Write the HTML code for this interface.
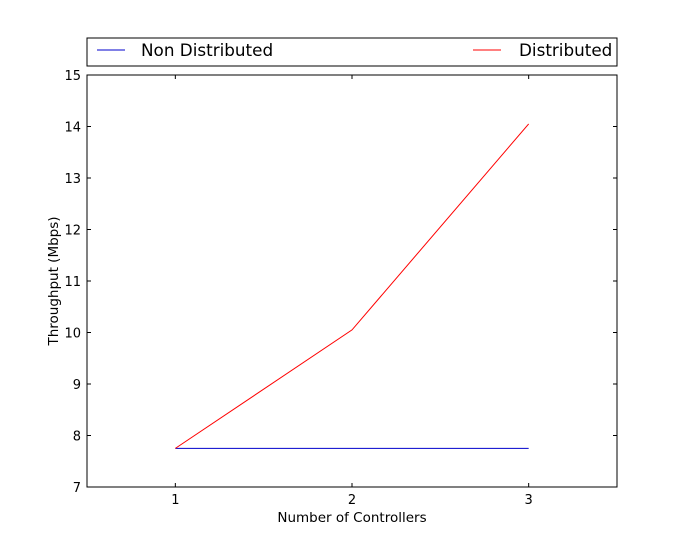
<!DOCTYPE html>
<html><head><meta charset="utf-8"><style>body{margin:0;background:#fff}svg{display:block;font-family:"DejaVu Sans","Liberation Sans",sans-serif}</style></head>
<body>
<svg id="chart" width="679" height="552">
<rect x="0" y="0" width="679" height="552" fill="#fff"/>
</svg>
<script>
const categories=[1,2,3];
const nonDistributed=[7.75,7.75,7.75];
const distributed=[7.75,10.05,14.05];
const yTicks=[7,8,9,10,11,12,13,14,15];
const xTicks=[1,2,3];
const svg=document.getElementById('chart');
const NS='http://www.w3.org/2000/svg';
const L=87,R=617,T=75,B=487;
const xs=v=>L+(v-0.5)/3*(R-L);
const ys=v=>B-(v-7)/8*(B-T);
function mk(tag,attrs,text){const e=document.createElementNS(NS,tag);for(const k in attrs)e.setAttribute(k,attrs[k]);if(text!==undefined)e.textContent=text;svg.appendChild(e);return e;}
let e;
e=mk('rect',{x:L,y:T,width:R-L,height:B-T,fill:'none',stroke:'#000','stroke-width':1});


yTicks.forEach(v=>{const y=ys(v);
 mk('line',{x1:L,x2:L+4,y1:y,y2:y,stroke:'#000'});
 mk('line',{x1:R,x2:R-4,y1:y,y2:y,stroke:'#000'});
 e=mk('text',{x:L-6,y:y+5,'text-anchor':'end','font-size':13},String(v));
 
 
});
xTicks.forEach(v=>{const x=xs(v);
 mk('line',{x1:x,x2:x,y1:B,y2:B-4,stroke:'#000'});
 mk('line',{x1:x,x2:x,y1:T,y2:T+4,stroke:'#000'});
 e=mk('text',{x:x,y:B+17,'text-anchor':'middle','font-size':13},String(v));
 
 
});
function series(vals,color,name){
 const pts=categories.map((c,i)=>xs(c)+','+ys(vals[i])).join(' ');
 e=mk('polyline',{points:pts,fill:'none',stroke:color,'stroke-width':1});
 
 
}
series(nonDistributed,'#0000cc','non-distributed-line');
series(distributed,'#ff0000','distributed-line');
e=mk('text',{x:352,y:522,'text-anchor':'middle','font-size':13.5},'Number of Controllers');


e=mk('text',{x:58,y:281,'text-anchor':'middle','font-size':13.5,transform:'rotate(-90 58 281)'},'Throughput (Mbps)');


e=mk('rect',{x:87,y:38,width:530,height:28,fill:'#fff',stroke:'#000'});


mk('line',{x1:97,x2:125,y1:50,y2:50,stroke:'#0000cc'});
e=mk('text',{x:141,y:56,'font-size':16.8},'Non Distributed');


mk('line',{x1:473,x2:501,y1:50,y2:50,stroke:'#ff0000'});
e=mk('text',{x:519,y:56,'font-size':16.8},'Distributed');


</script>
</body></html>
